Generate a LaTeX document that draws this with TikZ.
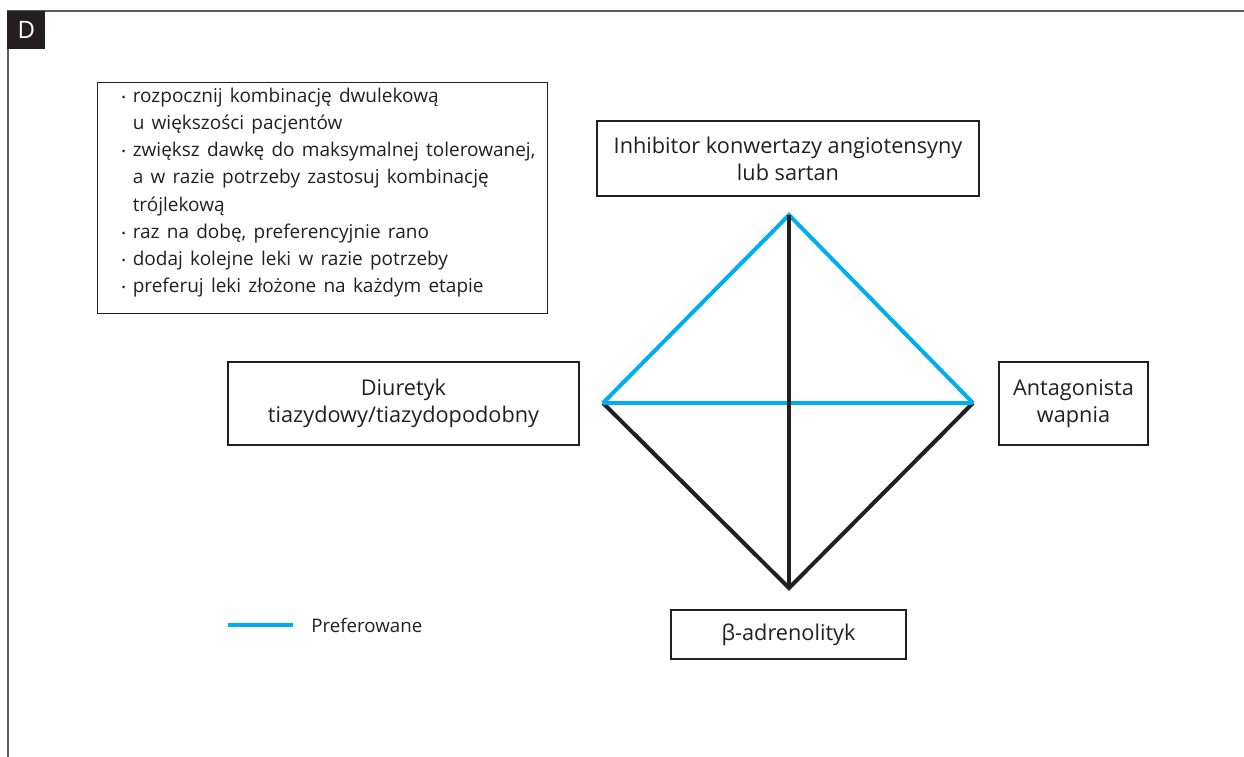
\documentclass[tikz,border=0pt]{standalone}
\usepackage{fontspec}
\setmainfont{Open Sans}
\usetikzlibrary{positioning}
\definecolor{ink}{HTML}{231F20}
\definecolor{prefblue}{HTML}{00AEEF}
\definecolor{framegray}{HTML}{5E5E5E}
\newcommand{\itm}{\raisebox{1pt}{\fontsize{11}{11}\selectfont•}}

\begin{document}
\begin{tikzpicture}[x=1pt,y=-1pt,thick,
  main node/.style={rectangle,draw=ink,line width=1.3pt,text=ink,align=center,
    font=\fontsize{21.7}{27}\selectfont,inner sep=0pt},
  pref line/.style={draw=prefblue,line width=4pt},
  other line/.style={draw=ink,line width=4pt}]

  \useasboundingbox (0,0) rectangle (1244,757);

  % frame and panel letter
  \draw[framegray,line width=1.5pt] (7,11) -- (1244,11);
  \draw[framegray,line width=2pt] (8,11) -- (8,757);
  \node[fill=ink,text=white,minimum size=38pt,inner sep=0pt,anchor=north west,
    font=\fontsize{24}{24}\selectfont] (0) at (7,10.5) {D};

  % recommendations
  \node[main node,anchor=north west,minimum width=450pt,minimum height=231pt,
    text width=450pt,align=left] (1) at (97,82) {%
    \renewcommand{\arraystretch}{1}%
    \fontsize{19}{27.2}\selectfont
    \begin{tabular}{@{\hskip 24pt}l@{\hskip 7pt}l@{}}
      \itm & rozpocznij kombinację dwulekową\\
           & u większości pacjentów\\
      \itm & zwiększ dawkę do maksymalnej tolerowanej,\\
           & a w razie potrzeby zastosuj kombinację\\
           & trójlekową\\
      \itm & raz na dobę, preferencyjnie rano\\
      \itm & dodaj kolejne leki w razie potrzeby\\
      \itm & preferuj leki złożone na każdym etapie
    \end{tabular}\par\vspace*{12pt}};

  % drug classes
  \node[main node,minimum width=382pt,minimum height=75pt] (2) at (788,158.5)
    {Inhibitor konwertazy angiotensyny\\lub sartan};
  \node[main node,minimum width=351pt,minimum height=83pt] (3) at (403.5,403.5)
    {Diuretyk\\tiazydowy/tiazydopodobny};
  \node[main node,minimum width=149pt,minimum height=83pt] (4) at (1073.5,403.5)
    {Antagonista\\wapnia};
  \node[main node,minimum width=235pt,minimum height=49pt] (5) at (788.5,634.5)
    {β-adrenolityk};

  % diamond of combinations
  \coordinate (top) at (789,215);
  \coordinate (left) at (603,403);
  \coordinate (right) at (973,403);
  \coordinate (bottom) at (789,588);

  \draw[other line] (left) -- (bottom) -- (right);
  \draw[pref line] (left) -- (top) -- (right);
  \draw[pref line] (left) -- (right);
  \draw[other line] (top) -- (bottom);

  % legend
  \coordinate (legA) at (228,625);
  \coordinate (legB) at (293,625);
  \draw[pref line,line width=4.5pt] (legA) -- (legB);
  \node[right=18pt of legB,inner sep=0pt,text=ink,font=\fontsize{18.7}{19}\selectfont] (6) {Preferowane};
\end{tikzpicture}
\end{document}
